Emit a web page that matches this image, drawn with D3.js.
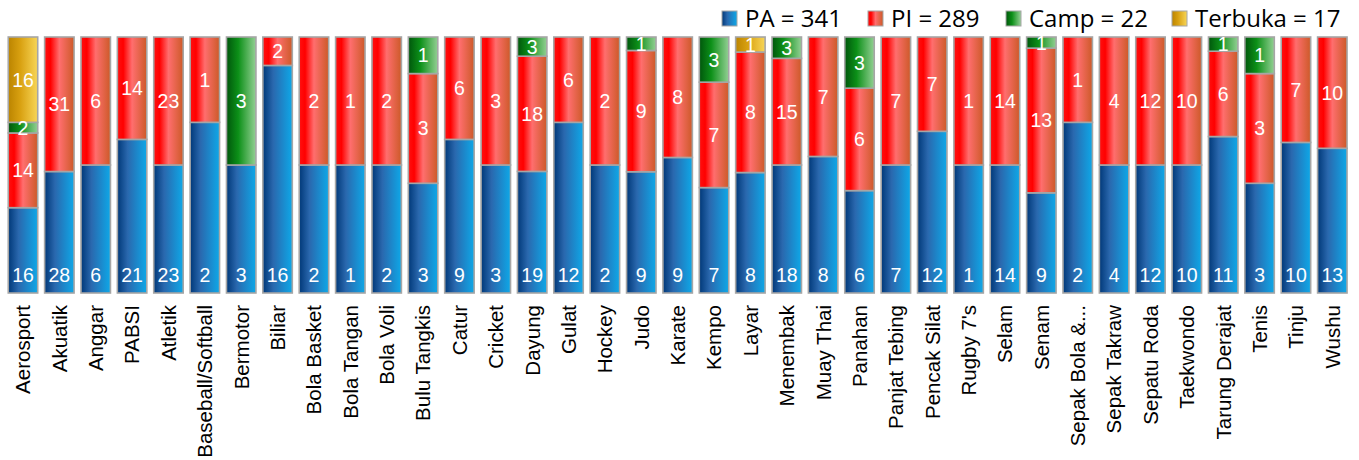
<!DOCTYPE html>
<html><head><meta charset="utf-8">
<script src="https://cdn.jsdelivr.net/npm/d3@7"></script>
<style>body{margin:0;background:#fff;} svg{display:block;}</style>
</head><body>
<svg id="c" width="1359" height="460"></svg>
<script>
const categories = ["Aerosport","Akuatik","Anggar","PABSI","Atletik","Baseball/Softball","Bermotor","Biliar","Bola Basket","Bola Tangan","Bola Voli","Bulu Tangkis","Catur","Cricket","Dayung","Gulat","Hockey","Judo","Karate","Kempo","Layar","Menembak","Muay Thai","Panahan","Panjat Tebing","Pencak Silat","Rugby 7's","Selam","Senam","Sepak Bola &...","Sepak Takraw","Sepatu Roda","Taekwondo","Tarung Derajat","Tenis","Tinju","Wushu"];
const PA      = [16,28,6,21,23,2,3,16,2,1,2,3,9,3,19,12,2,9,9,7,8,18,8,6,7,12,1,14,9,2,4,12,10,11,3,10,13];
const PI      = [14,31,6,14,23,1,0,2,2,1,2,3,6,3,18,6,2,9,8,7,8,15,7,6,7,7,1,14,13,1,4,12,10,6,3,7,10];
const Camp    = [2,0,0,0,0,0,3,0,0,0,0,1,0,0,3,0,0,1,0,3,0,3,0,3,0,0,0,0,1,0,0,0,0,1,1,0,0];
const Terbuka = [16,0,0,0,0,0,0,0,0,0,0,0,0,0,0,0,0,0,0,0,1,0,0,0,0,0,0,0,0,0,0,0,0,0,0,0,0];
const seriesNames = ["PA","PI","Camp","Terbuka"];

const svg = d3.select("#c");
const defs = svg.append("defs");
const grads = {
  PA: [[0,"#003878"],[0.35,"#2a68ae"],[1,"#0ea8e8"]],
  PI: [[0,"#ff1010"],[0.2,"#ff0000"],[0.5,"#ff6e6e"],[1,"#cc5a28"]],
  Camp: [[0,"#00560c"],[0.4,"#0c9018"],[1,"#94d094"]],
  Terbuka: [[0,"#bb8400"],[0.4,"#d8a010"],[1,"#f8d658"]]
};
Object.entries(grads).forEach(([k,stops])=>{
  const g = defs.append("linearGradient").attr("id","g"+k).attr("x1","0").attr("x2","1").attr("y1","0").attr("y2","0");
  stops.forEach(s=>g.append("stop").attr("offset",s[0]).attr("stop-color",s[1]));
});

const data = categories.map((c,i)=>({cat:c, PA:PA[i], PI:PI[i], Camp:Camp[i], Terbuka:Terbuka[i]}));
const stack = d3.stack().keys(seriesNames).offset(d3.stackOffsetExpand);
const layers = stack(data);

const x = d3.scaleBand().domain(categories).range([4.8,1350.5]).paddingInner(0.19).paddingOuter(0.095);
const y = d3.scaleLinear().domain([0,1]).range([293,37]);
const FONT = "'Liberation Sans', Arial, sans-serif";

const g = svg.append("g");
layers.forEach(layer=>{
  const key = layer.key;
  const lg = g.append("g");
  layer.forEach((d,i)=>{
    const v = d.data[key];
    if(!v) return;
    lg.append("rect")
      .attr("x", x(d.data.cat)).attr("width", x.bandwidth())
      .attr("y", y(d[1])).attr("height", y(d[0]) - y(d[1]))
      .attr("fill", `url(#g${key})`)
      .attr("stroke","#a6a6a6").attr("stroke-width",1.6);
  });
});
// labels
layers.forEach(layer=>{
  const key = layer.key;
  layer.forEach(d=>{
    const v = d.data[key];
    if(!v) return;
    const cx = x(d.data.cat) + x.bandwidth()/2;
    let ty;
    if(key==="PA") ty = y(0) - 11;
    else ty = (y(d[0]) + y(d[1]))/2 + 7;
    g.append("text").attr("x",cx).attr("y",ty)
      .attr("text-anchor","middle").attr("fill","#fff")
      .style("font-family",FONT).style("font-size","19.5px")
      .text(v);
  });
});

// x axis labels
const xa = svg.append("g").attr("transform","translate(0,300)")
  .call(d3.axisBottom(x).tickSize(0).tickPadding(0));
xa.attr("font-family",null).attr("font-size",null);
xa.select(".domain").remove();
xa.selectAll("text")
  .attr("transform","rotate(-90)")
  .attr("text-anchor","end").attr("x",-5).attr("y",0).attr("dy","0.36em")
  .attr("fill","#000")
  .style("font-family",FONT).style("font-size","20.5px");

// legend
const legendItems = seriesNames.map((k,i)=>({k, label: k+" = "+d3.sum([PA,PI,Camp,Terbuka][i])}));
const legX = [722, 868, 1006, 1172];
const leg = svg.append("g");
legendItems.forEach((it,i)=>{
  leg.append("rect").attr("x",legX[i]).attr("y",11).attr("width",15).attr("height",15)
    .attr("fill",`url(#g${it.k})`).attr("stroke","#a6a6a6").attr("stroke-width",1);
  leg.append("text").attr("x",legX[i]+23).attr("y",26.5)
    .style("font-family","'Open Sans', sans-serif").style("font-size","24px").attr("fill","#000")
    .text(it.label);
});
</script>
</body></html>
